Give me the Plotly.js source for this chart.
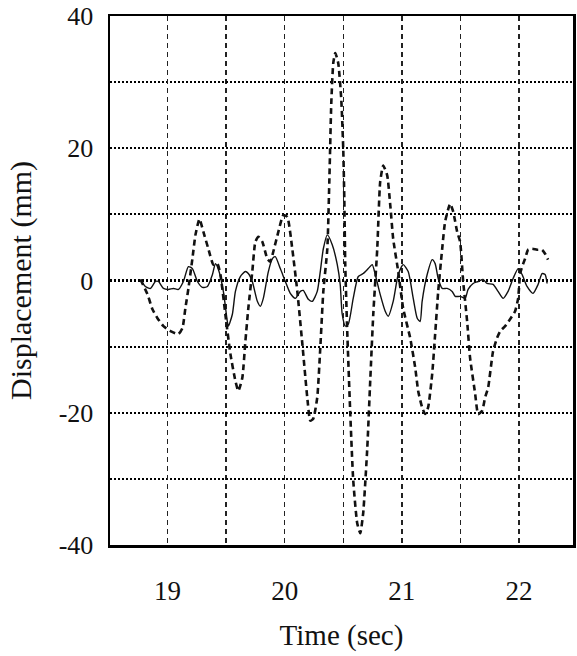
<!DOCTYPE html>
<html>
<head>
<meta charset="utf-8">
<script src="https://cdn.plot.ly/plotly-3.0.1.min.js"></script>
<style>html,body{margin:0;padding:0;background:#fff;}#chart{width:577px;height:656px;}</style>
</head>
<body>
<div id="chart"></div>
<script>
// Solid curve (small amplitude)
const solidT = [18.770,18.812,18.855,18.898,18.923,18.966,19.009,19.051,19.094,19.136,19.179,19.213,19.256,19.298,19.341,19.384,19.409,19.435,19.477,19.511,19.520,19.554,19.580,19.622,19.665,19.690,19.724,19.767,19.793,19.818,19.861,19.895,19.920,19.963,20.006,20.048,20.091,20.134,20.159,20.202,20.236,20.278,20.304,20.330,20.364,20.406,20.449,20.474,20.491,20.517,20.543,20.585,20.628,20.670,20.713,20.747,20.773,20.815,20.858,20.884,20.926,20.969,21.011,21.054,21.097,21.131,21.156,21.173,21.216,21.259,21.284,21.310,21.344,21.386,21.429,21.455,21.497,21.540,21.565,21.608,21.651,21.693,21.727,21.778,21.821,21.864,21.906,21.949,21.992,22.026,22.068,22.119,22.162,22.196,22.222,22.239];
const solidY = [0.15,-0.9,-1.2,-0.15,-0.15,-1.2,-1.35,-1.2,-1.35,-0.15,2.1,1.8,-0.15,-1.05,-0.9,0.9,2.55,1.65,-1.65,-6.2,-6.9,-5.1,-1.65,0.6,1.35,1.05,-0.15,-3.15,-3.9,-2.7,1.35,3.3,3.6,1.8,-0.15,-1.95,-2.7,-1.65,-1.5,-2.85,-3.15,-1.65,1.35,4.8,6.9,5.4,2.4,-0.6,-5.1,-6.9,-6.6,-2.7,0.6,1.05,1.8,2.4,0.9,-2.1,-4.65,-5.4,-3.15,0.9,2.4,1.35,-2.7,-5.7,-6.2,-3.15,0.9,3.15,2.55,0.3,-1.2,-1.2,-1.65,-2.4,-2.4,-2.7,-1.35,-0.45,-0.15,0.15,-0.45,-0.6,-1.65,-2.7,-1.65,0.3,1.8,0.9,-0.9,-1.95,-0.6,1.05,0.9,-0.45];

// Dashed curve (large amplitude)
const dashT = [18.770,18.830,18.872,18.915,18.966,19.026,19.094,19.128,19.153,19.179,19.213,19.239,19.273,19.307,19.349,19.392,19.426,19.452,19.494,19.537,19.580,19.605,19.639,19.665,19.690,19.724,19.750,19.776,19.810,19.852,19.878,19.903,19.946,19.989,20.023,20.065,20.108,20.151,20.193,20.219,20.244,20.278,20.304,20.330,20.364,20.381,20.398,20.415,20.432,20.457,20.483,20.500,20.509,20.517,20.534,20.560,20.585,20.619,20.645,20.670,20.705,20.730,20.756,20.790,20.815,20.841,20.875,20.901,20.926,20.969,21.011,21.071,21.114,21.139,21.173,21.199,21.224,21.259,21.284,21.310,21.344,21.369,21.412,21.438,21.472,21.497,21.523,21.557,21.582,21.625,21.651,21.685,21.710,21.736,21.778,21.812,21.838,21.881,21.923,21.966,21.992,22.009,22.026,22.051,22.077,22.111,22.153,22.196,22.222,22.247];
const dashY = [0.15,-2.1,-4.35,-5.7,-6.9,-7.65,-8.1,-7.2,-4.2,-1.2,3.3,6.9,9.3,7.35,4.8,2.4,2.55,0.9,-5.1,-11.1,-15.2,-16.7,-14.7,-9.2,-4.2,1.35,5.85,6.6,5.85,3.3,2.85,4.35,7.35,9.9,9.6,4.8,-1.65,-9.6,-17.7,-21.2,-20.9,-17.7,-10.2,-1.65,4.8,14.9,26.9,32.9,34.4,32.9,27.4,19.8,12.3,2.4,-7.7,-20.2,-30.2,-36.7,-38.2,-35.2,-25.3,-15.2,-5.1,4.8,14.9,17.4,15.9,11.4,6.3,1.35,-4.2,-8.7,-13.2,-16.7,-19.2,-20.2,-19.2,-14.1,-8.1,-1.65,4.8,8.9,11.6,10.4,7.35,5.85,-0.15,-6.2,-11.7,-17.1,-20.2,-19.7,-17.7,-16.2,-10.7,-8.7,-7.7,-6.9,-5.85,-4.65,-2.7,1.05,2.1,3.3,4.65,4.8,4.65,4.65,4.05,3.15];

// Tick labels
const xTickVals = [19, 20, 21, 22];
const xTickText = ['19', '20', '21', '22'];
const yTickVals = [-40, -20, 0, 20, 40];
const yTickText = ['-40', '-20', '0', '20', '40'];

const serif = 'Liberation Serif, Times New Roman, serif';

const traces = [
  {x: solidT, y: solidY, type: 'scatter', mode: 'lines',
   line: {color: '#111', width: 1.4, shape: 'spline', smoothing: 0.6}, showlegend: false, hoverinfo: 'skip'},
  {x: dashT, y: dashY, type: 'scatter', mode: 'lines',
   line: {color: '#111', width: 2.6, dash: '6px,4px', shape: 'spline', smoothing: 0.5}, showlegend: false, hoverinfo: 'skip'}
];

const layout = {
  width: 577, height: 656,
  margin: {l: 110, r: 4, t: 16, b: 111},
  paper_bgcolor: '#fff', plot_bgcolor: '#fff',
  font: {family: serif, color: '#111', size: 26},
  xaxis: {
    range: [18.51, 22.46],
    tickmode: 'array', tickvals: xTickVals, ticktext: xTickText,
    ticks: '', ticklabelstandoff: 20, ticklabeloverflow: 'allow',
    tickfont: {family: serif, size: 27, color: '#111'},
    showgrid: true, gridcolor: '#222', gridwidth: 1.5, griddash: '5px,4px',
    minor: {tickmode: 'linear', tick0: 18.5, dtick: 0.5, showgrid: true, gridcolor: '#222', gridwidth: 1.5, griddash: '5px,4px'},
    showline: true, linecolor: '#000', linewidth: 2.5, mirror: true,
    zeroline: false,
    title: {text: 'Time (sec)', font: {family: serif, size: 29, color: '#111'}, standoff: 20},
    automargin: false
  },
  yaxis: {
    range: [-40, 40],
    tickmode: 'array', tickvals: yTickVals, ticktext: yTickText,
    ticks: '', ticklabelstandoff: 9, ticklabeloverflow: 'allow',
    tickfont: {family: serif, size: 26, color: '#111'},
    showgrid: true, gridcolor: '#000', gridwidth: 2.2, griddash: '2px,2px',
    minor: {tickmode: 'linear', tick0: -40, dtick: 10, showgrid: true, gridcolor: '#000', gridwidth: 2.2, griddash: '2px,2px'},
    showline: true, linecolor: '#000', linewidth: 2.5, mirror: true,
    zeroline: false,
    title: {text: 'Displacement (mm)', font: {family: serif, size: 30, color: '#111'}, standoff: 18},
    automargin: false
  }
};

Plotly.newPlot('chart', traces, layout, {staticPlot: true, displayModeBar: false});
</script>
</body>
</html>
